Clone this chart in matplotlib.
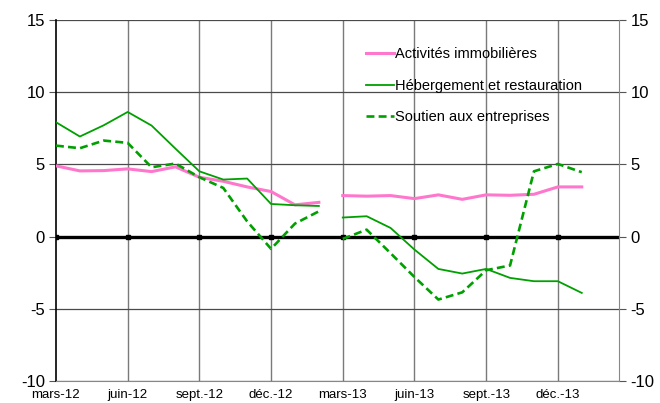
"""Glissement annuel par secteur de services (mars-12 a janv.-14)"""
import matplotlib
matplotlib.use('Agg')
import matplotlib.pyplot as plt

plt.rcParams['font.family'] = ['Liberation Sans', 'DejaVu Sans']
plt.rcParams['axes.unicode_minus'] = False

# months counted from mars-12 (0); the series is cut between fev.-13 and mars-13
months_2012 = [0, 1, 2, 3, 4, 5, 6, 7, 8, 9, 10, 11]
months_2013 = [12, 13, 14, 15, 16, 17, 18, 19, 20, 21, 22]

immo_2012 = [4.9, 4.55, 4.57, 4.69, 4.5, 4.83, 4.11, 3.83, 3.44, 3.12, 2.2, 2.37]
immo_2013 = [2.84, 2.8, 2.84, 2.63, 2.89, 2.58, 2.89, 2.86, 2.93, 3.44, 3.44]

heberg_2012 = [7.92, 6.93, 7.71, 8.63, 7.69, 6.09, 4.52, 3.95, 4.02, 2.26, 2.17, 2.12]
heberg_2013 = [1.32, 1.41, 0.6, -0.9, -2.24, -2.56, -2.24, -2.86, -3.09, -3.09, -3.9]

soutien_2012 = [6.3, 6.12, 6.65, 6.49, 4.8, 5.06, 4.11, 3.37, 1.05, -0.85, 0.9, 1.75]
soutien_2013 = [-0.16, 0.48, -1.15, -2.8, -4.36, -3.86, -2.33, -2.0, 4.52, 5.03, 4.46]

tick_months = [0, 3, 6, 9, 12, 15, 18, 21]
tick_labels = ['mars-12', 'juin-12', 'sept.-12', 'déc.-12',
               'mars-13', 'juin-13', 'sept.-13', 'déc.-13']
y_ticks = [-10, -5, 0, 5, 10, 15]

pink = '#ff77cc'
green = '#00a000'

fig = plt.figure(figsize=(6.6, 4.03), dpi=100)
ax = fig.add_axes([0.0848, 0.0546, 0.8535, 0.8958])

for m in tick_months[1:]:
    ax.axvline(m, color='#7a7a7a', lw=1.0, zorder=1)
for v in y_ticks:
    if v != 0:
        ax.axhline(v, color='#4a4a4a', lw=0.9, zorder=1)
ax.axhline(0, color='black', lw=2.4, zorder=2)
ax.plot(tick_months, [0] * len(tick_months), ls='none', marker='s', ms=2.5,
        color='black', zorder=3)

ax.plot(months_2012, immo_2012, color=pink, lw=2.2, zorder=4, label='Activités immobilières')
ax.plot(months_2013, immo_2013, color=pink, lw=2.2, zorder=4)
ax.plot(months_2012, heberg_2012, color=green, lw=1.3, zorder=5, label='Hébergement et restauration')
ax.plot(months_2013, heberg_2013, color=green, lw=1.3, zorder=5)
ax.plot(months_2012, soutien_2012, color=green, lw=1.9, ls=(0, (3, 1.6)), zorder=5,
        label='Soutien aux entreprises')
ax.plot(months_2013, soutien_2013, color=green, lw=1.9, ls=(0, (3, 1.6)), zorder=5)

ax.set_xlim(0, 23.57)
ax.set_ylim(-10, 15)
ax.set_yticks(y_ticks)
ax.set_xticks(tick_months)
ax.set_xticklabels(tick_labels, fontsize=9.5)
ax.tick_params(axis='x', length=0, pad=6)
ax.tick_params(axis='y', labelsize=12, length=5, color='#555555',
               right=True, labelright=True, pad=3)

ax.spines['top'].set_visible(False)
ax.spines['left'].set_color('black')
ax.spines['right'].set_color('#888888')
ax.spines['bottom'].set_color('#888888')
ax.spines['left'].set_linewidth(1.2)

leg = ax.legend(loc='upper left', bbox_to_anchor=(0.54, 0.94), frameon=False,
                fontsize=10.5, handlelength=1.9, handletextpad=0.1,
                labelspacing=1.2, borderaxespad=0)
leg.set_zorder(6)

fig.savefig('out.png', dpi=100)
